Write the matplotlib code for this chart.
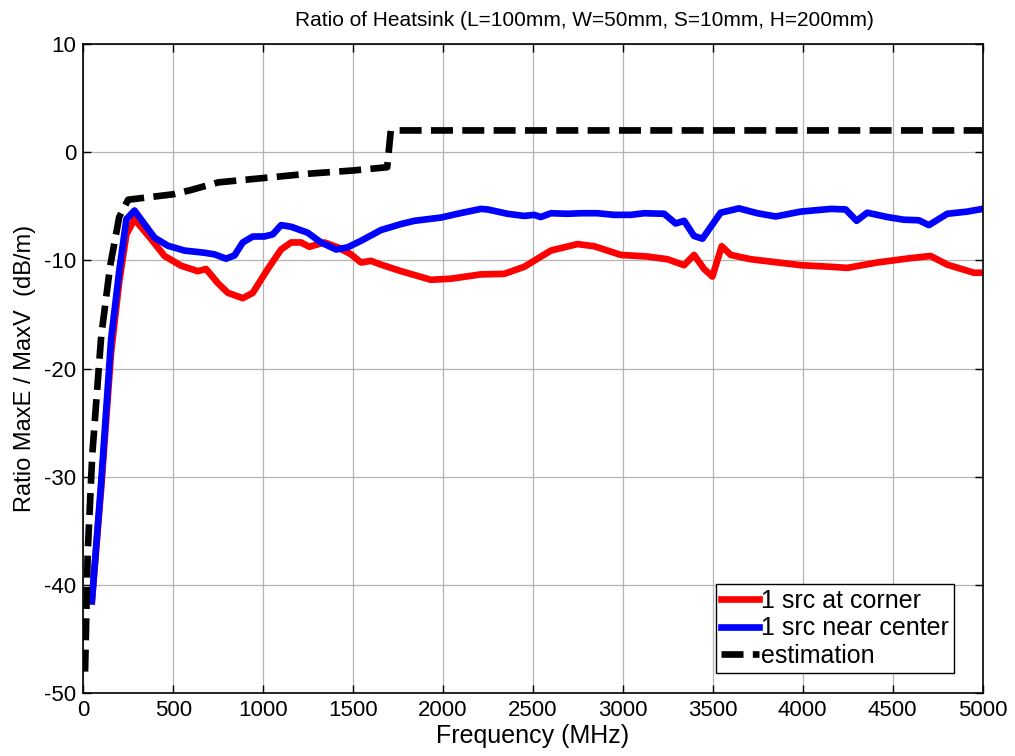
import matplotlib
matplotlib.use("Agg")
from matplotlib import pyplot as plt

plt.rcParams['font.family'] = ['Liberation Sans', 'DejaVu Sans']
plt.rcParams['axes.unicode_minus'] = False

# 1 src at corner
freq_corner = [48, 100, 155, 200, 240, 285, 378, 452, 544, 637, 683, 748, 804, 887, 943,
               1026, 1100, 1156, 1211, 1257, 1341, 1415, 1489, 1544, 1600, 1656, 1767,
               1933, 2044, 2211, 2341, 2452, 2600, 2748, 2841, 2989, 3137, 3248, 3341,
               3396, 3452, 3498, 3550, 3600, 3711, 3989, 4156, 4248, 4415, 4600, 4711,
               4804, 4952, 5000]
ratio_corner = [-41.5, -31.0, -18.5, -12.0, -7.6, -6.2, -8.05, -9.6, -10.5, -11.0, -10.8,
                -12.1, -13.0, -13.5, -13.0, -10.8, -9.0, -8.35, -8.35, -8.75, -8.35, -8.8,
                -9.45, -10.2, -10.05, -10.4, -11.0, -11.8, -11.7, -11.3, -11.25, -10.6,
                -9.1, -8.5, -8.7, -9.5, -9.65, -9.9, -10.45, -9.5, -10.8, -11.5, -8.7,
                -9.5, -9.9, -10.45, -10.6, -10.7, -10.2, -9.8, -9.6, -10.4, -11.15, -11.15]

# 1 src near center
freq_center = [48, 100, 155, 200, 240, 285, 396, 470, 563, 674, 730, 794, 841, 887, 943,
               1007, 1054, 1100, 1156, 1248, 1322, 1406, 1470, 1544, 1656, 1767, 1841,
               1989, 2081, 2211, 2248, 2359, 2452, 2507, 2544, 2600, 2693, 2767, 2859,
               2952, 3044, 3118, 3230, 3294, 3341, 3396, 3443, 3544, 3646, 3748, 3850,
               3989, 4156, 4239, 4300, 4359, 4470, 4563, 4646, 4702, 4804, 4915, 5000]
ratio_center = [-41.5, -30.5, -17.3, -11.0, -6.2, -5.4, -7.9, -8.65, -9.1, -9.3, -9.45,
                -9.85, -9.55, -8.35, -7.8, -7.8, -7.6, -6.75, -6.9, -7.45, -8.35, -9.0,
                -8.8, -8.2, -7.2, -6.65, -6.35, -6.05, -5.7, -5.25, -5.3, -5.7, -5.9,
                -5.8, -6.0, -5.65, -5.7, -5.65, -5.65, -5.8, -5.8, -5.65, -5.7, -6.6,
                -6.35, -7.75, -8.0, -5.6, -5.2, -5.65, -5.95, -5.5, -5.25, -5.3, -6.35,
                -5.6, -6.0, -6.25, -6.3, -6.75, -5.7, -5.5, -5.25]

# estimation
freq_est = [10, 25, 50, 100, 150, 200, 250, 500, 600, 750, 1000, 1250, 1500, 1690, 1710, 5000]
ratio_est = [-48.0, -37.0, -28.0, -17.0, -10.5, -6.0, -4.4, -3.9, -3.5, -2.8, -2.4, -2.0,
             -1.7, -1.4, 2.0, 2.0]

fig = plt.figure(figsize=(10.15, 7.56), dpi=100)
ax = fig.add_axes([0.082, 0.083, 0.886, 0.859])

ax.plot(freq_corner, ratio_corner, color='#ff0000', lw=4.8, label='1 src at corner')
ax.plot(freq_center, ratio_center, color='#0000ff', lw=4.8, label='1 src near center')
ax.plot(freq_est, ratio_est, color='black', lw=4.8, ls=(0, (3.3, 1.4)), label='estimation')

ax.set_xlim(0, 5000)
ax.set_ylim(-50, 10)
ax.set_xticks(range(0, 5001, 500))
ax.set_yticks(range(-50, 11, 10))
ax.grid(True, color='#b4b4b4', lw=0.9, ls='-')
ax.set_axisbelow(True)
ax.tick_params(direction='in', top=True, right=True, labelsize=16, length=6, width=1, pad=5)
for s in ax.spines.values():
    s.set_linewidth(1.2)

ax.set_title('Ratio of Heatsink (L=100mm, W=50mm, S=10mm, H=200mm)', fontsize=15,
             pad=13, x=0.557)
ax.set_xlabel('Frequency (MHz)', fontsize=18, labelpad=2)
ax.set_ylabel('Ratio MaxE / MaxV  (dB/m)', fontsize=17, labelpad=6)

leg = ax.legend(loc='lower right', bbox_to_anchor=(954 / 1015, 1 - 673 / 756),
                bbox_transform=fig.transFigure, fontsize=18, fancybox=False,
                edgecolor='black', framealpha=1, borderpad=0.2, labelspacing=0.15,
                handlelength=1.5, handletextpad=0.1, borderaxespad=0)
leg.get_frame().set_linewidth(1.0)

fig.savefig('out.png', dpi=100)
